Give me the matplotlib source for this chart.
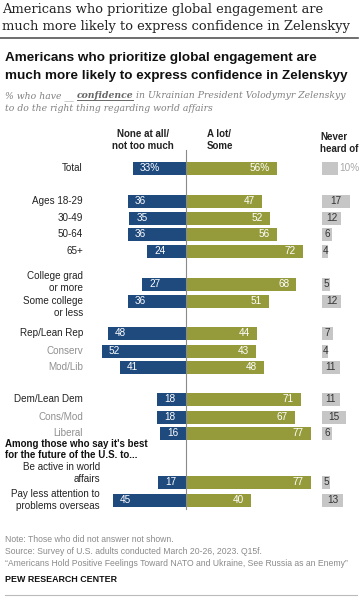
import matplotlib
matplotlib.use('Agg')
import matplotlib.pyplot as plt

plt.rcParams['font.family'] = ['Liberation Sans', 'DejaVu Sans']

W, H = 363, 600

categories = ['Total', 'Ages 18-29', '30-49', '50-64', '65+',
              'College grad\nor more', 'Some college\nor less',
              'Rep/Lean Rep', 'Conserv', 'Mod/Lib',
              'Dem/Lean Dem', 'Cons/Mod', 'Liberal',
              'Be active in world\naffairs', 'Pay less attention to\nproblems overseas']
none_not_much = [33, 36, 35, 36, 24, 27, 36, 48, 52, 41, 18, 18, 16, 17, 45]
a_lot_some = [56, 47, 52, 56, 72, 68, 51, 44, 43, 48, 71, 67, 77, 77, 40]
never_heard = [10, 17, 12, 6, 4, 5, 12, 7, 4, 11, 11, 15, 6, 5, 13]
subgroup = [False, False, False, False, False, False, False,
            False, True, True, False, True, True, False, False]

# layout (pixel rows)
bar_y = [168, 201, 218, 234, 251, 284, 301, 333, 351, 367, 399, 417, 433, 482, 500]
label_y = [168, 201, 218, 234, 251, 282, 307, 333, 351, 367, 399, 417, 433, 473, 500]
label_x = [83] * 13 + [100, 100]

BLUE = '#1f4a7e'
GREEN = '#959b3b'
GRAY = '#c6c6c6'
SCALE = 1.62  # px per percentage point
ZERO = 186

fig = plt.figure(figsize=(W / 100, H / 100), dpi=100)


def fx(x):
    return x / W


def fy(y):
    return 1 - y / H


def txt(x, y, s, **kw):
    return fig.text(fx(x), fy(y), s, **kw)


# diverging bars axis
l, r = 90, 320
ax = fig.add_axes([fx(l), 0, (r - l) / W, 1])
ax.set_xlim(-(ZERO - l) / SCALE, (r - ZERO) / SCALE)
ax.set_ylim(H, 0)
ax.axis('off')
ax.barh(bar_y, [-v for v in none_not_much], height=13, color=BLUE)
ax.barh(bar_y, a_lot_some, height=13, color=GREEN)
ax.plot([0, 0], [150, 509], color='#8a8a8a', lw=0.8)
for i, (b, g) in enumerate(zip(none_not_much, a_lot_some)):
    sb = f'{b}%' if i == 0 else str(b)
    sg = f'{g}%' if i == 0 else str(g)
    ax.text(-b + 7 / SCALE, bar_y[i], sb, color='white', fontsize=7.2,
            ha='left', va='center')
    ax.text(g - 7 / SCALE, bar_y[i], sg, color='white', fontsize=7.2,
            ha='right', va='center')

# never heard axis
l2 = 322
ax2 = fig.add_axes([fx(l2), 0, (W - l2) / W, 1])
ax2.set_xlim(0, (W - l2) / SCALE)
ax2.set_ylim(H, 0)
ax2.axis('off')
ax2.barh(bar_y, never_heard, height=13, color=GRAY)
for i, v in enumerate(never_heard):
    if i == 0:
        ax2.text(v + 1 / SCALE, bar_y[i], f'{v}%', color='#a8a8a8',
                 fontsize=7.2, ha='left', va='center')
    else:
        ax2.text(v / 2, bar_y[i], str(v), color='#333333', fontsize=7.2,
                 ha='center', va='center')

# row labels
for c, yl, xl, sg in zip(categories, label_y, label_x, subgroup):
    txt(xl, yl, c, ha='right', va='center', fontsize=7.1,
        color='#8f8f8f' if sg else '#222222', linespacing=1.2)

# column headers
hdr = dict(fontsize=7.0, fontweight='bold', color='#222222', linespacing=1.2,
           va='center')
txt(143, 140, 'None at all/\nnot too much', ha='center', **hdr)
txt(207, 140, 'A lot/\nSome', ha='left', **hdr)
txt(320, 143, 'Never\nheard of', ha='left', **hdr)

txt(5, 449.5, "Among those who say it's best\nfor the future of the U.S. to...",
    ha='left', va='center', fontsize=7.0, fontweight='bold', color='#111111',
    linespacing=1.2)

# titles
ttl = dict(ha='left', va='baseline', fontsize=9.35, family='DejaVu Serif',
           color='#222222')
txt(2, 13, 'Americans who prioritize global engagement are', **ttl)
txt(2, 30, 'much more likely to express confidence in Zelenskyy', **ttl)
fig.add_artist(plt.Line2D([0, fx(358)], [fy(38), fy(38)], color='#555555', lw=1.2))
st = dict(ha='left', va='baseline', fontsize=9.7, fontweight='bold', color='#111111')
txt(5, 61.5, 'Americans who prioritize global engagement are', **st)
txt(5, 79, 'much more likely to express confidence in Zelenskyy', **st)

# italic subtitle drawn piecewise so the underlined word follows the text
renderer = fig.canvas.get_renderer()
sub = dict(fontsize=6.65, family='DejaVu Serif', style='italic', va='baseline')
t1 = txt(5, 98, '% who have __ ', color='#808080', **sub)
x1 = t1.get_window_extent(renderer).x1 * W / fig.bbox.width
t2 = txt(x1, 98, 'confidence', color='#666666', fontweight='bold', **sub)
x2 = t2.get_window_extent(renderer).x1 * W / fig.bbox.width
fig.add_artist(plt.Line2D([fx(x1), fx(x2)], [fy(100), fy(100)], color='#666666', lw=0.7))
txt(x2, 98, ' in Ukrainian President Volodymyr Zelenskyy', color='#808080', **sub)
txt(5, 111, 'to do the right thing regarding world affairs', color='#808080', **sub)

# footer
foot = dict(ha='left', va='center', fontsize=6.2, color='#8a8a8a')
txt(5, 540, 'Note: Those who did not answer not shown.', **foot)
txt(5, 552, 'Source: Survey of U.S. adults conducted March 20-26, 2023. Q15f.', **foot)
txt(5, 563, '\u201cAmericans Hold Positive Feelings Toward NATO and Ukraine, See Russia as an Enemy\u201d',
    **foot)
txt(5, 579, 'PEW RESEARCH CENTER', ha='left', va='center', fontsize=6.4,
    fontweight='bold', color='#111111')
fig.add_artist(plt.Line2D([fx(5), fx(357)], [fy(595), fy(595)], color='#bbbbbb', lw=0.8))

fig.savefig('out.png', dpi=100)
